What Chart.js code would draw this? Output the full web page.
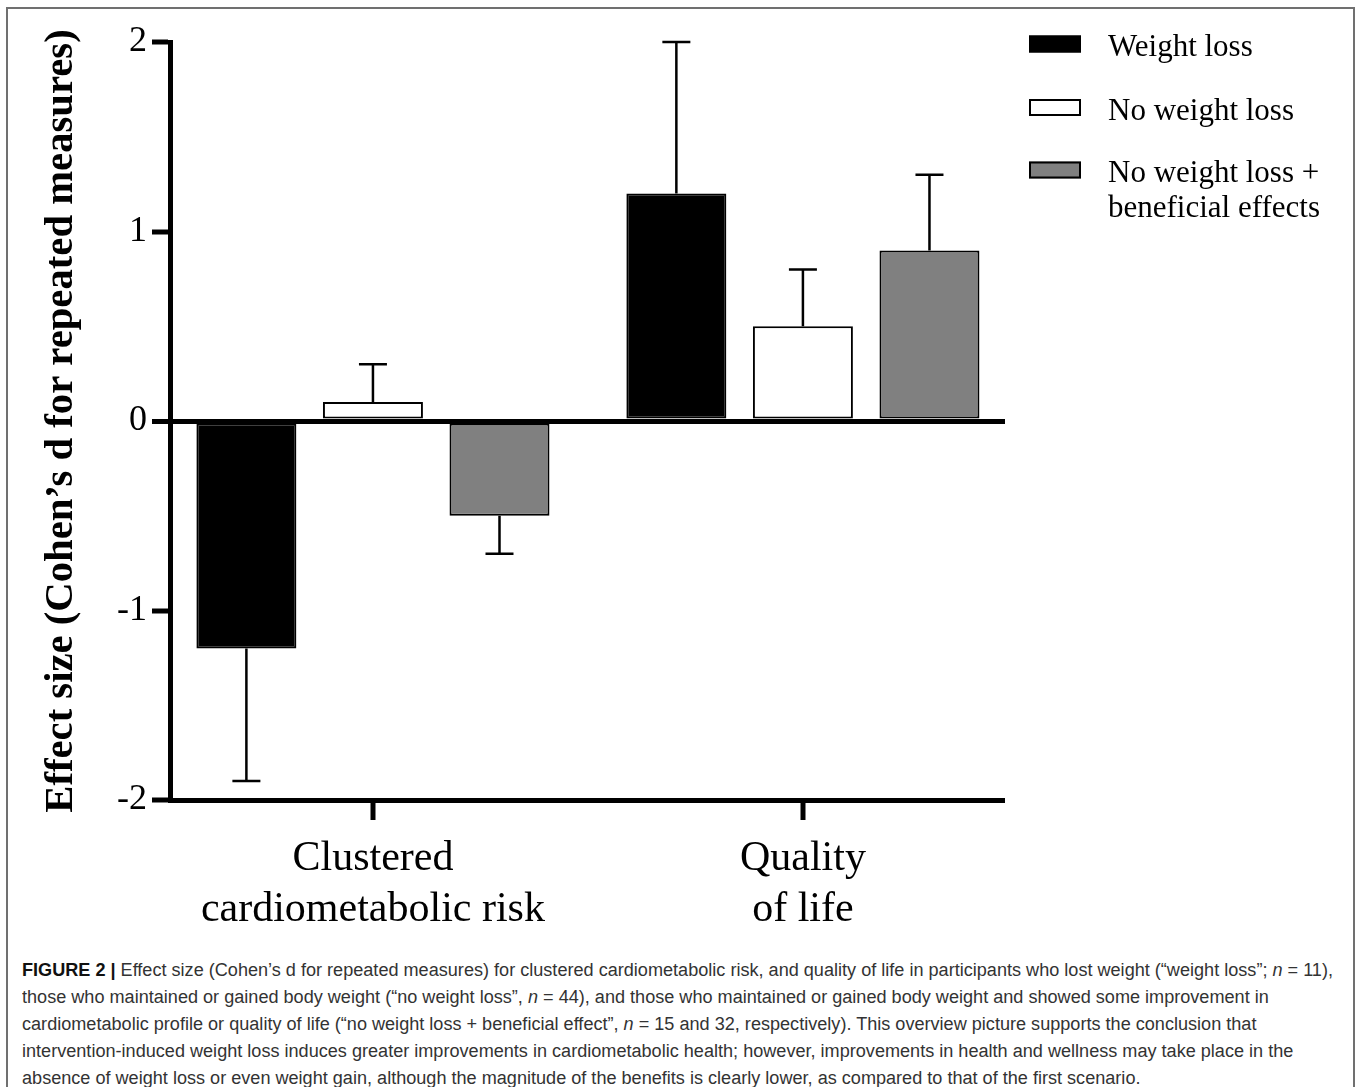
<!DOCTYPE html>
<html><head><meta charset="utf-8">
<script src="https://cdn.jsdelivr.net/npm/chart.js@4.4.1/dist/chart.umd.min.js"></script>
<style>
html,body{margin:0;padding:0;background:#fff;width:1358px;height:1087px;overflow:hidden}
#frame{position:absolute;left:6px;top:7px;width:1349px;height:1100px;border:2px solid #707070;box-sizing:border-box}
#wrap{position:absolute;left:0;top:0;width:1358px;height:940px}
#caption{position:absolute;left:22px;top:957px;font-family:"Liberation Sans",Arial,sans-serif;font-size:18px;line-height:26.9px;color:#333;white-space:nowrap;transform-origin:0 0}
#caption b{color:#111}
#caption .ln{display:inline-block}
</style></head>
<body>
<div id="frame"></div>
<div id="wrap"><canvas id="c" width="1358" height="940"></canvas></div>
<div id="caption">
<span class="ln"><b>FIGURE 2 |</b> Effect size (Cohen’s d for repeated measures) for clustered cardiometabolic risk, and quality of life in participants who lost weight (“weight loss”; <i>n</i> = 11),</span><br>
<span class="ln">those who maintained or gained body weight (“no weight loss”, <i>n</i> = 44), and those who maintained or gained body weight and showed some improvement in</span><br>
<span class="ln">cardiometabolic profile or quality of life (“no weight loss + beneficial effect”, <i>n</i> = 15 and 32, respectively). This overview picture supports the conclusion that</span><br>
<span class="ln">intervention-induced weight loss induces greater improvements in cardiometabolic health; however, improvements in health and wellness may take place in the</span><br>
<span class="ln">absence of weight loss or even weight gain, although the magnitude of the benefits is clearly lower, as compared to that of the first scenario.</span>
</div>
<script>
// ---- data ----
const categoryLines = [['Clustered', 'cardiometabolic risk'], ['Quality', 'of life']];
const seriesLabels = ['Weight loss', 'No weight loss', 'No weight loss + beneficial effects'];
const legendLines = [['Weight loss'], ['No weight loss'], ['No weight loss +', 'beneficial effects']];
const weightLoss = [-1.2, 1.2];
const weightLossErr = [-1.9, 2.0];
const noWeightLoss = [0.1, 0.5];
const noWeightLossErr = [0.3, 0.8];
const noWeightLossBenefit = [-0.5, 0.9];
const noWeightLossBenefitErr = [-0.7, 1.3];
const yTicks = [-2, -1, 0, 1, 2];
const yTitle = 'Effect size (Cohen\u2019s d for repeated measures)';

const fills = ['#000000', '#ffffff', '#808080'];
const serif = '"Liberation Serif", "Times New Roman", serif';

function toPoints(arr) { return arr.map((v, i) => ({ x: i, y: v })); }

const errorBarPlugin = {
  id: 'errorBars',
  afterDatasetsDraw(chart) {
    const ctx = chart.ctx, ys = chart.scales.y;
    chart.data.datasets.forEach((ds, di) => {
      const meta = chart.getDatasetMeta(di);
      meta.data.forEach((bar, i) => {
        const py = ys.getPixelForValue(ds.errorEnd[i]);
        ctx.save();
        ctx.strokeStyle = '#000';
        ctx.lineWidth = 2.5;
        ctx.beginPath();
        ctx.moveTo(bar.x, bar.y);
        ctx.lineTo(bar.x, py);
        ctx.moveTo(bar.x - 14, py);
        ctx.lineTo(bar.x + 14, py);
        ctx.stroke();
        ctx.restore();
      });
    });
  }
};

const legendPlugin = {
  id: 'sideLegend',
  afterDraw(chart) {
    const ctx = chart.ctx;
    const boxX = chart.chartArea.right + 24;
    const textX = boxX + 79;
    const rowCenters = [44, 107.5, 170];
    ctx.save();
    chart.data.datasets.forEach((ds, i) => {
      const cy = rowCenters[i];
      ctx.fillStyle = ds.backgroundColor;
      ctx.fillRect(boxX, cy - 8.5, 52, 17);
      ctx.lineWidth = 2;
      ctx.strokeStyle = '#000';
      ctx.strokeRect(boxX + 1, cy - 7.5, 50, 15);
      ctx.fillStyle = '#000';
      ctx.font = '31px ' + serif;
      ctx.textBaseline = 'alphabetic';
      ctx.textAlign = 'left';
      legendLines[i].forEach((t, k) => ctx.fillText(t, textX, cy + 12 + k * 35));
    });
    ctx.restore();
  }
};

const chart = new Chart(document.getElementById('c'), {
  type: 'bar',
  data: {
    datasets: [
      { label: seriesLabels[0], data: toPoints(weightLoss), errorEnd: weightLossErr, backgroundColor: fills[0] },
      { label: seriesLabels[1], data: toPoints(noWeightLoss), errorEnd: noWeightLossErr, backgroundColor: fills[1] },
      { label: seriesLabels[2], data: toPoints(noWeightLossBenefit), errorEnd: noWeightLossBenefitErr, backgroundColor: fills[2] }
    ].map(d => Object.assign(d, { borderColor: '#000', borderWidth: 2, borderSkipped: false,
      categoryPercentage: 0.883, barPercentage: 0.79 }))
  },
  options: {
    responsive: false,
    animation: false,
    devicePixelRatio: 1,
    layout: { padding: { top: 42, right: 353, left: 0, bottom: 0 } },
    plugins: { legend: { display: false }, tooltip: { enabled: false } },
    scales: {
      x: {
        type: 'linear',
        offset: false,
        min: -0.472, max: 1.47,
        afterBuildTicks(s) { s.ticks = categoryLines.map((c, i) => ({ value: i })); },
        afterFit(s) { s.height = 140; },
        grid: { offset: false, drawOnChartArea: false, drawTicks: true, tickLength: 20, tickWidth: 5, tickColor: '#000', lineWidth: 0 },
        border: { display: true, width: 5, color: '#000' },
        ticks: {
          padding: 13.5, color: '#000', maxRotation: 0, autoSkip: false,
          font: { family: serif, size: 42, lineHeight: 1.21 },
          callback: (v) => categoryLines[v] || ''
        }
      },
      y: {
        min: -2, max: 2, z: 1,
        afterBuildTicks(s) { s.ticks = yTicks.map(v => ({ value: v })); },
        afterFit(s) { s.width = 170; },
        grid: {
          drawOnChartArea: true, drawTicks: true, tickLength: 18, tickWidth: 5, tickColor: '#000',
          color: (c) => (c.tick && c.tick.value === 0) ? '#000' : 'rgba(0,0,0,0)',
          lineWidth: (c) => (c.tick && c.tick.value === 0) ? 5 : 0
        },
        border: { display: true, width: 5, color: '#000' },
        ticks: { padding: 5, color: '#000', font: { family: serif, size: 36 }, callback: (v) => String(v) },
        title: { display: true, text: yTitle, color: '#000', padding: { top: 37, bottom: 0 },
          font: { family: serif, size: 40.7, weight: 'bold' } }
      }
    }
  },
  plugins: [errorBarPlugin, legendPlugin]
});

// fit caption width
(function () {
  const cap = document.getElementById('caption');
  const first = cap.querySelector('.ln');
  const w = first.getBoundingClientRect().width;
  cap.style.transform = 'scaleX(' + (1311 / w) + ')';
})();
</script>
</body></html>
